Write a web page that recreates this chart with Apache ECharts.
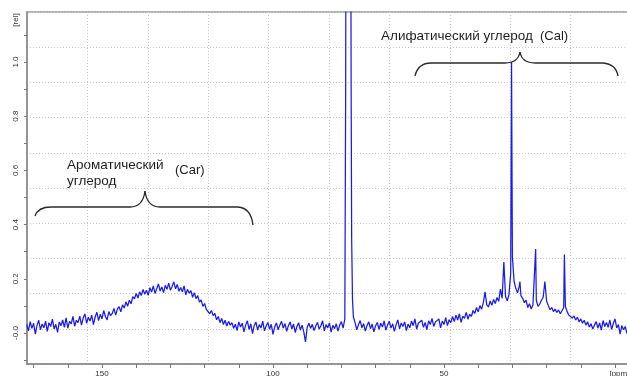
<!DOCTYPE html>
<html>
<head>
<meta charset="utf-8">
<title>13C NMR</title>
<script src="https://cdn.jsdelivr.net/npm/echarts@6/dist/echarts.min.js"></script>
<style>
  html, body { margin: 0; padding: 0; background: #fff; }
  #chart { width: 627px; height: 376px; }
</style>
</head>
<body>
<div id="chart"></div>
<script>
// 13C spectrum, intensity sampled every 0.5 ppm starting at 172 ppm (down to -5 ppm)
const ppmStart = 172.0;
const ppmStep = 0.5;
const intensity = [
  0.031, 0.008, 0.042, 0.017, 0.036, -0.004, 0.028, 0.047, 0.012, 0.033,
  0.019, 0.044, 0.006, 0.038, 0.024, 0.051, 0.015, 0.032, 0.002, 0.041,
  0.027, 0.048, 0.021, 0.056, 0.018, 0.043, 0.034, 0.061, 0.025, 0.047,
  0.038, 0.062, 0.029, 0.055, 0.071, 0.036, 0.058, 0.044, 0.066, 0.031,
  0.059, 0.077, 0.046, 0.069, 0.052, 0.083, 0.061, 0.048, 0.079, 0.064,
  0.072, 0.091, 0.066, 0.088, 0.097, 0.078, 0.104, 0.092, 0.115, 0.099,
  0.121, 0.108, 0.134, 0.126, 0.146, 0.129, 0.152, 0.138, 0.161, 0.143,
  0.158, 0.139, 0.167, 0.151, 0.174, 0.146, 0.163, 0.181, 0.155, 0.170,
  0.149, 0.176, 0.161, 0.184, 0.158, 0.172, 0.189, 0.163, 0.179, 0.154,
  0.168, 0.152, 0.174, 0.141, 0.161, 0.147, 0.156, 0.132, 0.149, 0.127,
  0.138, 0.114, 0.122, 0.098, 0.109, 0.087, 0.094, 0.071, 0.083, 0.064,
  0.072, 0.049, 0.061, 0.038, 0.054, 0.031, 0.047, 0.026, 0.043, 0.029,
  0.038, 0.017, 0.033, 0.009, 0.041, 0.022, 0.036, 0.004, 0.029, 0.045,
  0.013, 0.034, -0.002, 0.027, 0.041, 0.011, 0.031, 0.019, 0.044, 0.008,
  0.026, 0.039, 0.014, 0.032, -0.005, 0.023, 0.037, 0.012, 0.029, 0.043,
  0.018, 0.035, 0.006, 0.027, 0.041, 0.015, 0.033, 0.002, 0.024, 0.038,
  0.011, 0.029, 0.004, -0.033, 0.021, 0.036, 0.017, 0.032, 0.009, 0.026,
  0.039, 0.014, 0.027, 0.045, 0.008, 0.031, 0.019, 0.037, 0.003, 0.028,
  0.016, 0.034, 0.007, 0.029, 0.042, 0.018, 0.051, 3.000, 3.000, 3.000,
  0.350, 0.060, 0.038, 0.012, 0.031, 0.046, 0.019, 0.035, 0.007, 0.028,
  0.041, 0.016, 0.033, 0.004, 0.027, 0.039, 0.013, 0.036, 0.022, 0.045,
  0.011, 0.029, 0.043, 0.018, 0.034, 0.006, 0.031, 0.048, 0.015, 0.037,
  0.024, 0.041, 0.009, 0.033, 0.019, 0.044, 0.027, 0.052, 0.014, 0.036,
  0.029, 0.047, 0.021, 0.039, 0.012, 0.045, 0.031, 0.054, 0.024, 0.041,
  0.036, 0.052, 0.019, 0.044, 0.031, 0.057, 0.027, 0.049, 0.038, 0.061,
  0.042, 0.066, 0.048, 0.071, 0.039, 0.062, 0.054, 0.076, 0.051, 0.069,
  0.061, 0.083, 0.072, 0.094, 0.078, 0.101, 0.088, 0.112, 0.152, 0.104,
  0.096, 0.118, 0.102, 0.124, 0.109, 0.131, 0.117, 0.162, 0.128, 0.262,
  0.134, 0.119, 0.142, 0.220, 0.280, 0.190, 0.165, 0.148, 0.172, 0.138,
  0.128, 0.112, 0.121, 0.094, 0.108, 0.089, 0.103, 0.097, 0.120, 0.098,
  0.107, 0.121, 0.132, 0.190, 0.118, 0.101, 0.086, 0.094, 0.079, 0.088,
  0.076, 0.085, 0.071, 0.082, 0.094, 0.098, 0.079, 0.066, 0.072, 0.055,
  0.063, 0.048, 0.058, 0.041, 0.052, 0.036, 0.047, 0.029, 0.041, 0.022,
  0.034, 0.015, 0.029, 0.042, 0.018, 0.037, 0.011, 0.046, 0.024, 0.039,
  0.021, 0.048, 0.013, 0.035, 0.052, 0.019, 0.031, -0.004, 0.027, 0.012,
  0.024, -0.002, 0.019, 0.008, 0.016
];

// Sharp lines that fall between the 0.5 ppm samples
const linePpm    = [78.75, 77.15, 76.75, 30.25, 27.8, 23.2, 14.8];
const lineHeight = [0.90,  0.90,  0.12,  1.00,  0.19, 0.31, 0.29];

// Axis ticks and labels
const xTickValues  = [170, 160, 150, 140, 130, 120, 110, 100, 90, 80, 70, 60, 50, 40, 30, 20, 10, 0];
const xLabelValues = [150, 100, 50];
const xUnit = '[ppm]';
const yTickValues  = [-0.1, 0, 0.1, 0.2, 0.3, 0.4, 0.5, 0.6, 0.7, 0.8, 0.9, 1.0, 1.1];
const yLabelValues = [0, 0.2, 0.4, 0.6, 0.8, 1.0];
const yUnit = '[rel]';

// Region annotations
const regionTitles = ['Ароматический', 'углерод', '(Car)', 'Алифатический углерод', '(Cal)'];

// Build [ppm, intensity] pairs and order them along the ppm axis
const points = intensity.map((v, i) => [+(ppmStart - i * ppmStep).toFixed(2), v]);
linePpm.forEach((p, i) => points.push([p, lineHeight[i]]));
points.sort((a, b) => b[0] - a[0]);

const chart = echarts.init(document.getElementById('chart'), null, { renderer: 'canvas' });

const labelFont = { color: '#333', fontSize: 8, fontFamily: 'Liberation Sans' };
const gridDots = { show: true, lineStyle: { color: '#c9c9c9', type: [1, 2], width: 1 } };
const textFont = { fill: '#1e1e1e', fontSize: 13.5, fontFamily: 'Liberation Sans' };
const noteFont = { fill: '#1e1e1e', fontSize: 13, fontFamily: 'Liberation Sans' };
const braceStyle = { stroke: '#2a2a2a', lineWidth: 1.3, fill: null };

// Curly brace: hooks at both ends, flat arms, pointed cusp in the middle
function brace(x0, y0, x1, y1, yArm, xc, yc) {
  const curve = (ax, ay, cx, cy, bx, by) => ({
    type: 'bezierCurve', z: 10,
    shape: { x1: ax, y1: ay, cpx1: cx, cpy1: cy, x2: bx, y2: by },
    style: braceStyle
  });
  const seg = (ax, ay, bx, by) => ({
    type: 'line', z: 10,
    shape: { x1: ax, y1: ay, x2: bx, y2: by },
    style: braceStyle
  });
  return [
    curve(x0, y0, x0 + 3, yArm, x0 + 16, yArm),
    seg(x0 + 16, yArm, xc - 15, yArm),
    curve(xc - 15, yArm, xc - 2, yArm, xc, yc),
    curve(xc, yc, xc + 2, yArm, xc + 15, yArm),
    seg(xc + 15, yArm, x1 - 15, yArm),
    curve(x1 - 15, yArm, x1 - 2, yArm + 1, x1, y1)
  ];
}

chart.setOption({
  animation: false,
  backgroundColor: '#fff',
  grid: {
    left: 27, top: 12, width: 604, height: 352,
    outerBoundsMode: 'none', containLabel: false,
    show: true, borderColor: '#9a9a9a', borderWidth: 1.5, backgroundColor: 'transparent'
  },
  xAxis: [
    {
      type: 'value', inverse: true, min: -4.68, max: 171.93,
      axisLine: { show: true, onZero: false, lineStyle: { color: '#8a8a8a', width: 1.5 } },
      axisTick: { show: true, length: 4, customValues: xTickValues, lineStyle: { color: '#777' } },
      axisLabel: {
        show: true, margin: 6, ...labelFont,
        customValues: xLabelValues.concat([-1.3]),
        formatter: v => (v < 0 ? xUnit : String(v))
      },
      splitLine: { show: false }
    },
    {
      type: 'value', min: 0, max: 10, interval: 1, position: 'top',
      axisLine: { show: false }, axisTick: { show: false }, axisLabel: { show: false },
      splitLine: gridDots
    }
  ],
  yAxis: [
    {
      type: 'value', min: -0.1144, max: 1.1845,
      axisLine: { show: true, onZero: false, lineStyle: { color: '#8a8a8a', width: 1.5 } },
      axisTick: { show: true, length: 3, customValues: yTickValues, lineStyle: { color: '#777' } },
      axisLabel: {
        show: true, rotate: 90, margin: 7, ...labelFont,
        customValues: yLabelValues.concat([1.155]),
        formatter: v => (v > 1.1 ? yUnit : v === 0 ? '-0.0' : v.toFixed(1))
      },
      splitLine: { show: false }
    },
    {
      type: 'value', min: 0, max: 10, interval: 1, position: 'right',
      axisLine: { show: false }, axisTick: { show: false }, axisLabel: { show: false },
      splitLine: gridDots
    }
  ],
  series: [{
    type: 'line',
    xAxisIndex: 0, yAxisIndex: 0,
    data: points,
    showSymbol: false,
    clip: true,
    lineStyle: { color: '#1a1aea', width: 1.25 },
    z: 5
  }],
  graphic: [
    { type: 'text', x: 67, y: 158, style: { text: regionTitles[0], ...textFont } },
    { type: 'text', x: 67, y: 174, style: { text: regionTitles[1], ...textFont } },
    { type: 'text', x: 175, y: 164, style: { text: regionTitles[2], ...noteFont } },
    { type: 'text', x: 381, y: 29, style: { text: regionTitles[3], ...textFont } },
    { type: 'text', x: 540, y: 30, style: { text: regionTitles[4], ...noteFont } }
  ]
    .concat(brace(35, 216, 253, 225, 207, 145, 191))
    .concat(brace(415, 76, 618, 76, 63, 520, 52))
});
</script>
</body>
</html>
